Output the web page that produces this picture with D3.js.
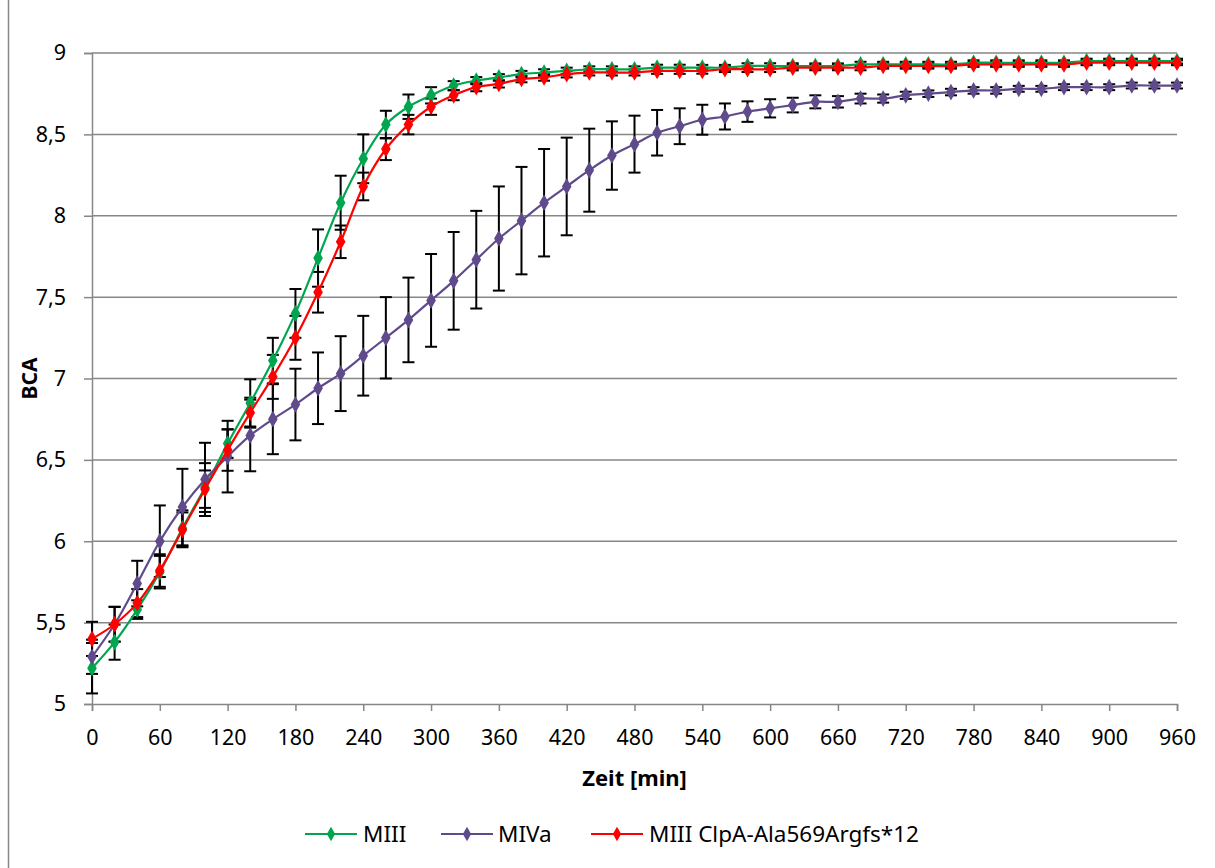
<!DOCTYPE html>
<html><head><meta charset="utf-8">
<script src="https://cdn.jsdelivr.net/npm/d3@7"></script>
<style>body{margin:0;background:#fff;} svg{display:block;} text{font-family:"Noto Sans","Open Sans",sans-serif;fill:#000;}</style>
</head><body>
<svg id="chart" width="1215" height="868"></svg>
<script>
const minutes = [0,20,40,60,80,100,120,140,160,180,200,220,240,260,280,300,320,340,360,380,400,420,440,460,480,500,520,540,560,580,600,620,640,660,680,700,720,740,760,780,800,820,840,860,880,900,920,940,960];
const xTicks = [0,60,120,180,240,300,360,420,480,540,600,660,720,780,840,900,960];
const yTicks = [5,5.5,6,6.5,7,7.5,8,8.5,9];
const yTickLabels = ["5","5,5","6","6,5","7","7,5","8","8,5","9"];
const seriesNames = ["MIII","MIVa","MIII ClpA-Ala569Argfs*12"];
const seriesColors = ["#00a64f","#5f4b8b","#ff0000"];

const miii = [5.22,5.38,5.58,5.81,6.08,6.33,6.60,6.85,7.11,7.40,7.74,8.08,8.35,8.56,8.67,8.74,8.80,8.83,8.85,8.87,8.88,8.89,8.90,8.90,8.90,8.91,8.91,8.91,8.91,8.92,8.92,8.92,8.92,8.92,8.93,8.93,8.93,8.93,8.93,8.94,8.94,8.94,8.94,8.94,8.95,8.95,8.95,8.95,8.95];
const miiiSd = [0.155,0.108,0.057,0.10,0.11,0.15,0.088,0.145,0.14,0.15,0.176,0.166,0.15,0.085,0.075,0.05,0.027,0.022,0.02,0.02,0.02,0.02,0.018,0.018,0.018,0.018,0.018,0.017,0.017,0.017,0.017,0.017,0.016,0.016,0.016,0.016,0.016,0.016,0.016,0.015,0.015,0.015,0.015,0.015,0.015,0.015,0.015,0.015,0.015];
const miva = [5.29,5.49,5.74,6.00,6.21,6.38,6.52,6.65,6.75,6.84,6.94,7.03,7.14,7.25,7.36,7.48,7.60,7.73,7.86,7.97,8.08,8.18,8.28,8.37,8.44,8.51,8.55,8.59,8.61,8.64,8.66,8.68,8.70,8.70,8.72,8.72,8.74,8.75,8.76,8.77,8.77,8.78,8.78,8.79,8.79,8.79,8.80,8.80,8.80];
const mivaSd = [0.105,0.107,0.14,0.22,0.235,0.225,0.22,0.22,0.215,0.22,0.22,0.23,0.245,0.25,0.26,0.285,0.30,0.30,0.32,0.33,0.33,0.30,0.255,0.21,0.175,0.14,0.11,0.092,0.08,0.063,0.056,0.045,0.04,0.035,0.03,0.025,0.022,0.02,0.02,0.02,0.02,0.018,0.018,0.018,0.018,0.018,0.018,0.018,0.018];
const clpa = [5.40,5.49,5.62,5.82,6.07,6.32,6.56,6.79,7.01,7.25,7.53,7.84,8.18,8.41,8.56,8.67,8.74,8.79,8.81,8.84,8.85,8.87,8.88,8.88,8.88,8.89,8.89,8.89,8.90,8.90,8.90,8.91,8.91,8.91,8.91,8.92,8.92,8.92,8.92,8.93,8.93,8.93,8.93,8.93,8.94,8.94,8.94,8.94,8.94];
const clpaSd = [0.105,0.107,0.086,0.10,0.107,0.115,0.127,0.092,0.135,0.135,0.125,0.10,0.085,0.068,0.06,0.05,0.03,0.025,0.022,0.02,0.02,0.02,0.018,0.018,0.018,0.018,0.018,0.017,0.017,0.017,0.017,0.017,0.016,0.016,0.016,0.016,0.016,0.016,0.016,0.015,0.015,0.015,0.015,0.015,0.015,0.015,0.015,0.015,0.015];

const seriesMeans = [miii, miva, clpa];
const seriesSds = [miiiSd, mivaSd, clpaSd];

const svg = d3.select("#chart");
const W = 1215, H = 868;
const margin = {left: 92, right: 38, top: 53, bottom: 164};
const x = d3.scaleLinear().domain([0, 960]).range([margin.left, W - margin.right]);
const y = d3.scaleLinear().domain([5, 9]).range([H - margin.bottom, margin.top]);
const gridColor = "#878787";

// outer frame
svg.append("rect").attr("x", 8.5).attr("y", -10).attr("width", 1230).attr("height", 890)
  .attr("fill", "none").attr("stroke", gridColor).attr("stroke-width", 1.5);

// horizontal gridlines
svg.append("g").selectAll("line").data(yTicks.slice(1)).join("line")
  .attr("x1", x(0)).attr("x2", x(960))
  .attr("y1", d => y(d)).attr("y2", d => y(d))
  .attr("stroke", gridColor).attr("stroke-width", 1.5);

// y axis
const yAxis = d3.axisLeft(y).tickValues(yTicks).tickSize(8).tickPadding(18)
  .tickFormat((d, i) => yTickLabels[i]);
const gy = svg.append("g").attr("transform", `translate(${x(0)},0)`).call(yAxis);
gy.select(".domain").attr("stroke", gridColor).attr("stroke-width", 1.5);
gy.selectAll(".tick line").attr("stroke", gridColor).attr("stroke-width", 1.5);
gy.selectAll(".tick text").attr("font-size", 21.5).attr("font-family", "Noto Sans").attr("fill", "#000");

// x axis
const xAxis = d3.axisBottom(x).tickValues(xTicks).tickSize(7).tickPadding(19).tickFormat(d => String(d));
const gx = svg.append("g").attr("transform", `translate(0,${y(5)})`).call(xAxis);
gx.select(".domain").attr("stroke", gridColor).attr("stroke-width", 1.5);
gx.selectAll(".tick line").attr("stroke", gridColor).attr("stroke-width", 1.5);
gx.selectAll(".tick text").attr("font-size", 21.5).attr("font-family", "Noto Sans").attr("fill", "#000");

// axis titles
svg.append("text").attr("x", (x(0) + x(960)) / 2).attr("y", 786).attr("text-anchor", "middle")
  .attr("font-size", 22).attr("font-weight", "bold").text("Zeit [min]");
svg.append("text").attr("transform", `translate(37,${y(7)}) rotate(-90)`).attr("text-anchor", "middle")
  .attr("font-size", 21).attr("font-weight", "bold").text("BCA");

// error bars
const capHalf = 6;
seriesMeans.forEach((means, s) => {
  const sds = seriesSds[s];
  const g = svg.append("g").attr("stroke", "#000").attr("stroke-width", 2);
  minutes.forEach((m, i) => {
    const cx = x(m), top = y(means[i] + sds[i]), bot = y(means[i] - sds[i]);
    g.append("line").attr("x1", cx).attr("x2", cx).attr("y1", top).attr("y2", bot);
    g.append("line").attr("x1", cx - capHalf).attr("x2", cx + capHalf).attr("y1", top).attr("y2", top);
    g.append("line").attr("x1", cx - capHalf).attr("x2", cx + capHalf).attr("y1", bot).attr("y2", bot);
  });
});

// lines and markers
const line = d3.line().x(d => x(d[0])).y(d => y(d[1])).curve(d3.curveCatmullRom.alpha(0.5));
const diamond = d3.symbol().type(d3.symbolDiamond).size(80);
seriesMeans.forEach((means, s) => {
  const pts = minutes.map((m, i) => [m, means[i]]);
  svg.append("path").datum(pts).attr("d", line).attr("fill", "none")
    .attr("stroke", seriesColors[s]).attr("stroke-width", 2.2);
  svg.append("g").selectAll("path").data(pts).join("path")
    .attr("d", diamond).attr("transform", d => `translate(${x(d[0])},${y(d[1])})`)
    .attr("fill", seriesColors[s]);
});

// legend
const legendItems = [{lx: 305, tx: 363}, {lx: 441, tx: 498}, {lx: 591, tx: 649}];
const lg = svg.append("g");
legendItems.forEach((it, s) => {
  const ly = 834;
  lg.append("line").attr("x1", it.lx).attr("x2", it.lx + 52).attr("y1", ly).attr("y2", ly)
    .attr("stroke", seriesColors[s]).attr("stroke-width", 2.2);
  lg.append("path").attr("d", d3.symbol().type(d3.symbolDiamond).size(60)).attr("transform", `translate(${it.lx + 26},${ly})`).attr("fill", seriesColors[s]);
  lg.append("text").attr("x", it.tx).attr("y", 842).attr("font-size", 22.5).text(seriesNames[s]);
});
</script>
</body></html>
